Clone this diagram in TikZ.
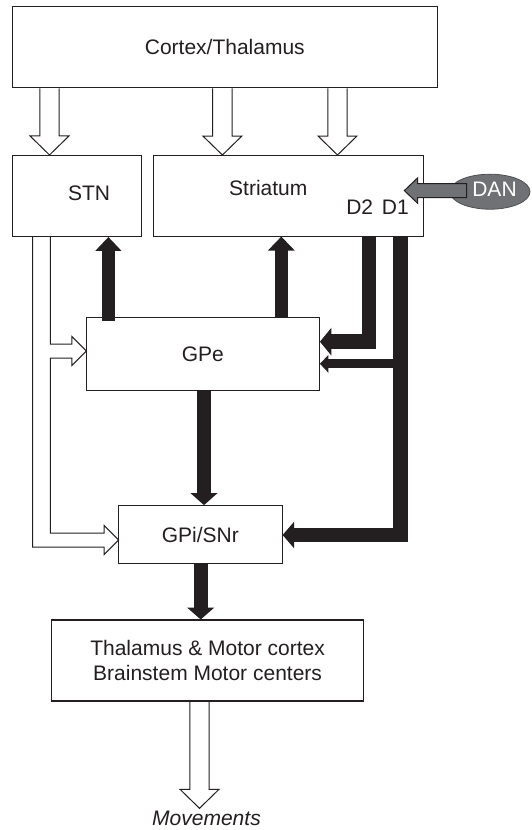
\documentclass[tikz,border=0pt]{standalone}
\usepackage{fontspec}
\setmainfont{Liberation Sans}
\usetikzlibrary{calc,shapes.geometric}
\definecolor{ink}{RGB}{35,31,32}
\definecolor{dangray}{RGB}{112,113,116}
\newcommand\hollowdown[2]{%
  \draw[hollowline] let \p1=#1, \p2=#2 in
    (\x2-9.7pt,\y1) -- (\x2-9.7pt,\y2+19pt) -- (\x2-19.5pt,\y2+19pt) -- (\p2)
    -- (\x2+19.5pt,\y2+19pt) -- (\x2+9.7pt,\y2+19pt) -- (\x2+9.7pt,\y1);}
\newcommand\blkhead[3]{\fill[ink] ($#1!#3!90:#2$) -- #2 -- ($#1!#3!-90:#2$) -- cycle;}
\begin{document}
\begin{tikzpicture}[x=1pt,y=-1pt,
  font=\fontsize{21}{25.4}\selectfont,
  box/.style={draw=ink, line width=1.1pt, rectangle, inner sep=0pt, text=ink, align=center},
  lab/.style={inner sep=0pt, text=ink},
  hollowline/.style={draw=ink, line width=1pt, line join=miter},
  shaft/.style={draw=ink, line join=miter, line cap=butt}]
\fill[white] (0,0) rectangle (531,830);
\useasboundingbox (0,0) rectangle (531,830);

% boxes
\node[box, minimum width=424.5pt, minimum height=81pt] (ctx) at (224.8,47.3) {Cortex/Thalamus};
\node[box, minimum width=128.5pt, minimum height=81pt] (stn) at (76.8,196) {};
\node[box, minimum width=270pt, minimum height=80.5pt] (str) at (288.4,195.8) {};
\node[box, minimum width=233pt, minimum height=73.4pt] (gpe) at (202.9,354) {GPe};
\node[box, minimum width=163.5pt, minimum height=57.6pt] (gpi) at (200.3,534.5) {GPi/SNr};
\node[box, minimum width=311.5pt, minimum height=81pt] (thal) at (207.6,660.5) {Thalamus \& Motor cortex\\Brainstem Motor centers};
\node[ellipse, fill=dangray, draw=dangray!70!black, line width=0.8pt, minimum width=80pt, minimum height=35pt, inner sep=0pt] (dan) at (490,191.7) {};
\node[lab, text=white] (danlab) at (494.5,189.3) {DAN};

% labels
\node[lab] (stnlab) at (89,193.3) {STN};
\node[lab] (strlab) at (268.3,188.3) {Striatum};
\node[lab] (d2) at (359.7,207.3) {D2};
\node[lab] (d1) at (395.3,207.3) {D1};
\node[lab, font=\fontsize{21}{25.4}\selectfont\itshape] (mov) at (206.5,818.3) {Movements};

% hollow arrows from cortex and to movements
\coordinate (h1) at (49.5,0);
\coordinate (h2) at (222.4,0);
\coordinate (h3) at (337.5,0);
\coordinate (h4) at (199.5,0);
\coordinate (mt) at (199.5,808.3);
\hollowdown{(ctx.south -| h1)}{(stn.north -| h1)}
\hollowdown{(ctx.south -| h2)}{(str.north -| h2)}
\hollowdown{(ctx.south -| h3)}{(str.north -| h3)}
\hollowdown{(thal.south -| h4)}{(mt)}

% STN hollow split connector
\coordinate (gpeT) at ($(gpe.west)+(0.6,-3)$);
\coordinate (gpiT) at ($(gpi.west)+(0.6,5.5)$);
\draw[hollowline] let \p1=(gpeT), \p2=(gpiT), \p3=(stn.south) in
  (32.7pt,\y3) -- (32.7pt,\y2-7pt) -- (\x2-14.5pt,\y2-7pt) -- (\x2-14.5pt,\y2-14.5pt)
  -- (\p2) -- (\x2-14.5pt,\y2+14.5pt) -- (\x2-14.5pt,\y2+7pt) -- (50.4pt,\y2+7pt)
  -- (50.4pt,\y1-7pt) -- (\x1-14.5pt,\y1-7pt) -- (\x1-14.5pt,\y1-14.5pt)
  -- (\p1) -- (\x1-14.5pt,\y1+14.5pt) -- (\x1-14.5pt,\y1+7pt) -- (50.4pt,\y1+7pt)
  -- (50.4pt,\y3);

% black arrows
% GPe -> STN
\coordinate (a1s) at (108.4,320.7);
\coordinate (a1t) at (stn.south -| a1s);
\coordinate (a1b) at ($(a1t)+(0,13.7)$);
\draw[shaft, line width=13.3pt] (a1s) -- ($(a1b)!1pt!(a1t)$);
\blkhead{(a1b)}{(a1t)}{13pt}
% GPe -> Striatum
\coordinate (a2s) at (281.3,318);
\coordinate (a2t) at (str.south -| a2s);
\coordinate (a2b) at ($(a2t)+(0,14)$);
\draw[shaft, line width=12.7pt] (a2s) -- ($(a2b)!1pt!(a2t)$);
\blkhead{(a2b)}{(a2t)}{13.5pt}
% D2 -> GPe
\coordinate (a3s) at (str.south -| 368.8,0);
\coordinate (a3t) at (gpe.east |- 0,341.7);
\coordinate (a3b) at ($(a3t)+(11.5,0)$);
\draw[shaft, line width=14.5pt] (a3s) |- ($(a3b)!1pt!(a3t)$);
\blkhead{(a3b)}{(a3t)}{14pt}
% D1 -> GPi
\coordinate (a4s) at (str.south -| 400.4,0);
\coordinate (a4t) at (gpi.east |- 0,535);
\coordinate (a4b) at ($(a4t)+(11.5,0)$);
\draw[shaft, line width=14.5pt] (a4s) |- ($(a4b)!1pt!(a4t)$);
\blkhead{(a4b)}{(a4t)}{13.3pt}
% D1 -> GPe branch
\coordinate (a5s) at (400,363.8);
\coordinate (a5t) at (gpe.east |- a5s);
\coordinate (a5b) at ($(a5t)+(8.5,0)$);
\draw[shaft, line width=9pt] (a5s) -- ($(a5b)!1pt!(a5t)$);
\blkhead{(a5b)}{(a5t)}{9pt}
% GPe -> GPi
\coordinate (a6s) at (gpe.south -| 204,0);
\coordinate (a6t) at (gpi.north -| a6s);
\coordinate (a6b) at ($(a6t)+(0,-12)$);
\draw[shaft, line width=13.2pt] (a6s) -- ($(a6b)!1pt!(a6t)$);
\blkhead{(a6b)}{(a6t)}{13.5pt}
% GPi -> Thalamus
\coordinate (a7s) at (gpi.south -| 200.7,0);
\coordinate (a7t) at (thal.north -| a7s);
\coordinate (a7b) at ($(a7t)+(0,-11.8)$);
\draw[shaft, line width=13.9pt] (a7s) -- ($(a7b)!1pt!(a7t)$);
\blkhead{(a7b)}{(a7t)}{13.5pt}

% DAN -> Striatum gray arrow
\coordinate (dans) at (466.5,190.6);
\coordinate (dant) at (404.3,190.6);
\draw[fill=dangray, draw=ink, line width=1pt, line join=miter] let \p1=(dans), \p2=(dant) in
  (\x1,\y1+7pt) -- (\x2+13.4pt,\y1+7pt) -- (\x2+13.4pt,\y1+12.8pt) -- (\p2)
  -- (\x2+13.4pt,\y1-12.8pt) -- (\x2+13.4pt,\y1-7pt) -- (\x1,\y1-7pt) -- cycle;
\end{tikzpicture}
\end{document}
